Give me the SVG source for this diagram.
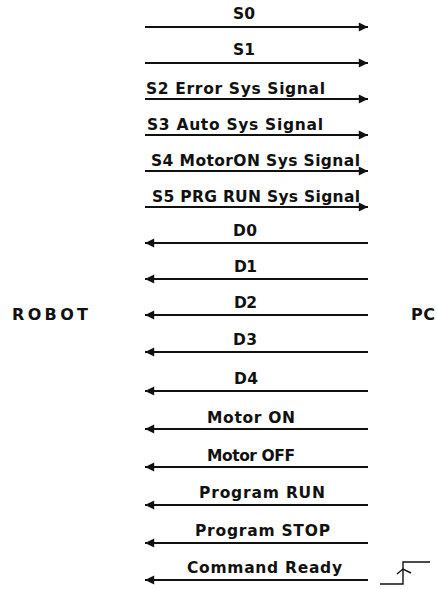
<svg xmlns="http://www.w3.org/2000/svg" width="437" height="590" viewBox="0 0 437 590">
<defs>
<marker id="ah" viewBox="0 0 10 10" refX="10" refY="5" markerWidth="5" markerHeight="4.6" orient="auto-start-reverse" markerUnits="strokeWidth">
<path d="M0,0 L10,5 L0,10 Z" fill="#111"/>
</marker>
<style>
.lbl{font-family:"DejaVu Sans",Verdana,sans-serif;font-weight:bold;font-size:15.5px;fill:#111}
.big{font-family:"DejaVu Sans",Verdana,sans-serif;font-weight:bold;font-size:16px;fill:#111}
.r{stroke:#111;stroke-width:2;fill:none;marker-end:url(#ah)}
.l{stroke:#111;stroke-width:2;fill:none;marker-start:url(#ah)}
.step{stroke:#111;stroke-width:1.4;fill:none}
</style>
</defs>
<g id="robot"><text class="big" x="12" y="320" textLength="76" lengthAdjust="spacing">ROBOT</text></g>
<g id="pc"><text class="big" x="411" y="320" textLength="24" lengthAdjust="spacing">PC</text></g>
<g id="connectors">
<line class="r" x1="145" y1="27" x2="368" y2="27"/>
<line class="r" x1="145" y1="63" x2="368" y2="63"/>
<line class="r" x1="145" y1="99" x2="368" y2="99"/>
<line class="r" x1="145" y1="135" x2="368" y2="135"/>
<line class="r" x1="145" y1="171" x2="368" y2="171"/>
<line class="r" x1="145" y1="207" x2="368" y2="207"/>
<line class="l" x1="145" y1="243" x2="368" y2="243"/>
<line class="l" x1="145" y1="279" x2="368" y2="279"/>
<line class="l" x1="145" y1="315" x2="368" y2="315"/>
<line class="l" x1="145" y1="352" x2="368" y2="352"/>
<line class="l" x1="145" y1="391" x2="368" y2="391"/>
<line class="l" x1="145" y1="429" x2="368" y2="429"/>
<line class="l" x1="145" y1="467" x2="368" y2="467"/>
<line class="l" x1="145" y1="505" x2="368" y2="505"/>
<line class="l" x1="145" y1="543" x2="368" y2="543"/>
<line class="l" x1="145" y1="580" x2="368" y2="580"/>
</g>
<g id="labels">
<text class="lbl" x="233" y="19" textLength="22" lengthAdjust="spacing">S0</text>
<text class="lbl" x="233" y="55" textLength="22" lengthAdjust="spacing">S1</text>
<text class="lbl" x="146" y="94" textLength="179" lengthAdjust="spacing">S2 Error Sys Signal</text>
<text class="lbl" x="147" y="130" textLength="176" lengthAdjust="spacing">S3 Auto Sys Signal</text>
<text class="lbl" x="151" y="166" textLength="209" lengthAdjust="spacing">S4 MotorON Sys Signal</text>
<text class="lbl" x="152" y="202" textLength="208" lengthAdjust="spacing">S5 PRG RUN Sys Signal</text>
<text class="lbl" x="233" y="236" textLength="24" lengthAdjust="spacing">D0</text>
<text class="lbl" x="234" y="272" textLength="23" lengthAdjust="spacing">D1</text>
<text class="lbl" x="234" y="308" textLength="23" lengthAdjust="spacing">D2</text>
<text class="lbl" x="233" y="345" textLength="24" lengthAdjust="spacing">D3</text>
<text class="lbl" x="234" y="384" textLength="24" lengthAdjust="spacing">D4</text>
<text class="lbl" x="207" y="423" textLength="88" lengthAdjust="spacing">Motor ON</text>
<text class="lbl" x="207" y="461" textLength="88" lengthAdjust="spacing">Motor OFF</text>
<text class="lbl" x="199" y="498" textLength="126" lengthAdjust="spacing">Program RUN</text>
<text class="lbl" x="195" y="536" textLength="135" lengthAdjust="spacing">Program STOP</text>
<text class="lbl" x="187" y="573" textLength="155" lengthAdjust="spacing">Command Ready</text>
</g>
<g id="edge">
<path class="step" d="M380,584 H403 V562 H430"/>
<path class="step" d="M397,574 L403,569 L411,573"/>
</g>
</svg>
